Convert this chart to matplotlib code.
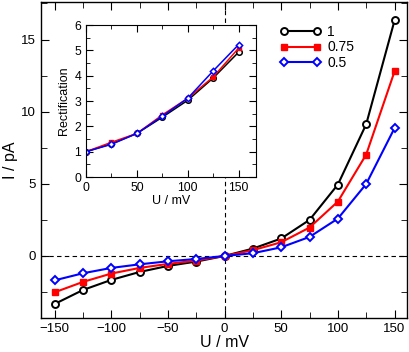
import matplotlib
matplotlib.use("Agg")
import matplotlib.pyplot as plt
from matplotlib.ticker import MultipleLocator

plt.rcParams['font.family'] = ['Liberation Sans', 'DejaVu Sans']

# main I-U curves
U = [-150, -125, -100, -75, -50, -25, 0, 25, 50, 75, 100, 125, 150]
I_1 = [-3.33, -2.36, -1.66, -1.11, -0.69, -0.39, 0.0, 0.51, 1.21, 2.50, 4.95, 9.13, 16.32]
I_075 = [-2.52, -1.80, -1.22, -0.83, -0.55, -0.32, 0.0, 0.40, 0.95, 1.97, 3.77, 7.03, 12.79]
I_05 = [-1.69, -1.20, -0.83, -0.58, -0.37, -0.21, 0.0, 0.19, 0.60, 1.32, 2.59, 4.99, 8.86]

# inset rectification
U_in = [0, 25, 50, 75, 100, 125, 150]
R_1 = [1.0, 1.31, 1.72, 2.36, 3.03, 3.91, 4.93]
R_075 = [1.0, 1.37, 1.72, 2.45, 3.11, 3.95, 5.09]
R_05 = [1.0, 1.29, 1.72, 2.40, 3.11, 4.19, 5.23]

labels = ['1', '0.75', '0.5']

fig = plt.figure(figsize=(4.09, 3.52), dpi=100)
ax = fig.add_axes([41/409, 1 - 318/352, 366/409, 316/352])

ax.axhline(0, color='k', ls=(0, (4, 3)), lw=0.8, zorder=1)
ax.axvline(0, color='k', ls=(0, (4, 3)), lw=0.8, zorder=1)

ax.plot(U, I_1, color='k', lw=1.5, marker='o', ms=5, mfc='white', mec='k', mew=1.4, label=labels[0], zorder=3)
ax.plot(U, I_075, color='red', lw=1.5, marker='s', ms=4, mfc='red', mec='red', label=labels[1], zorder=3)
ax.plot(U, I_05, color='blue', lw=1.5, marker='D', ms=3.8, mfc='white', mec='blue', mew=1.4, label=labels[2], zorder=3)

ax.set_xlim(-162, 161)
ax.set_ylim(-4.3, 17.6)
ax.xaxis.set_major_locator(MultipleLocator(50))
ax.xaxis.set_minor_locator(MultipleLocator(25))
ax.yaxis.set_major_locator(MultipleLocator(5))
ax.yaxis.set_minor_locator(MultipleLocator(2.5))
ax.tick_params(which='both', direction='in', top=True, right=True, labelsize=9.5)
ax.tick_params(which='major', length=6)
ax.tick_params(which='minor', length=4)
ax.set_xlabel('U / mV', fontsize=11.5, labelpad=0)
ax.set_ylabel('I / pA', fontsize=11.5, labelpad=2)
for s in ax.spines.values():
    s.set_linewidth(1.0)

ax.legend(loc='upper left', bbox_to_anchor=(0.653, 0.927), frameon=False, fontsize=10, numpoints=2,
          handlelength=3.0, handletextpad=0.4, labelspacing=0.1, borderaxespad=0, borderpad=0)

# inset
axi = fig.add_axes([86/409, 1 - 177/352, 170/409, 152/352])
axi.plot(U_in, R_1, color='k', lw=1.1, marker='o', ms=4, mfc='white', mec='k', mew=1.1)
axi.plot(U_in, R_075, color='red', lw=1.1, marker='s', ms=3.5, mfc='red', mec='red')
axi.plot(U_in, R_05, color='blue', lw=1.1, marker='D', ms=3.2, mfc='white', mec='blue', mew=1.1)
axi.set_xlim(0, 167)
axi.set_ylim(0, 6)
axi.xaxis.set_major_locator(MultipleLocator(50))
axi.xaxis.set_minor_locator(MultipleLocator(25))
axi.yaxis.set_major_locator(MultipleLocator(1))
axi.yaxis.set_minor_locator(MultipleLocator(0.5))
axi.tick_params(which='both', direction='in', top=True, right=True, labelsize=8.8)
axi.tick_params(which='major', length=5)
axi.tick_params(which='minor', length=3)
axi.set_xlabel('U / mV', fontsize=9, labelpad=1)
axi.set_ylabel('Rectification', fontsize=9, labelpad=3)

fig.savefig('out.png', dpi=100)
